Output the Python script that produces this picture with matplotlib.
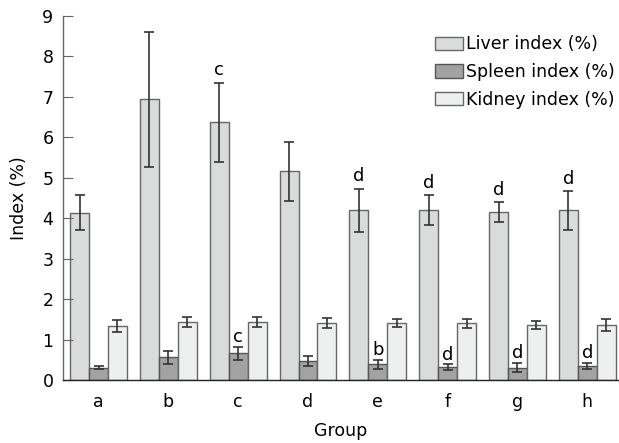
import numpy as np
import matplotlib
matplotlib.use('Agg')
import matplotlib.pyplot as plt

groups = ['a', 'b', 'c', 'd', 'e', 'f', 'g', 'h']

liver = [4.14, 6.94, 6.37, 5.16, 4.20, 4.20, 4.15, 4.20]
liver_err = [0.43, 1.67, 0.98, 0.73, 0.53, 0.37, 0.24, 0.48]
spleen = [0.31, 0.56, 0.66, 0.47, 0.39, 0.32, 0.31, 0.35]
spleen_err = [0.04, 0.15, 0.16, 0.13, 0.11, 0.07, 0.12, 0.07]
kidney = [1.34, 1.43, 1.43, 1.41, 1.40, 1.40, 1.37, 1.37]
kidney_err = [0.15, 0.13, 0.12, 0.12, 0.10, 0.12, 0.10, 0.15]

liver_marks = ['', '', 'c', '', 'd', 'd', 'd', 'd']
spleen_marks = ['', '', 'c', '', 'b', 'd', 'd', 'd']

plt.rcParams.update({
    "font.family": "DejaVu Sans",
    "font.size": 12.5,
    "axes.edgecolor": "#666666",
    "axes.linewidth": 1.0,
})

fig = plt.figure(figsize=(6.19, 4.43), dpi=100)
ax = fig.add_axes([0.102, 0.142, 0.896, 0.822])

x = np.arange(len(groups))
w = 0.271
err_kw = dict(ecolor='#333333', elinewidth=1.2, capsize=3.5, capthick=1.2)

ax.bar(x - w, liver, w, yerr=liver_err, color='#dadcdc', edgecolor='#666666',
       linewidth=1.0, error_kw=err_kw, label='Liver index (%)')
ax.bar(x, spleen, w, yerr=spleen_err, color='#a2a2a2', edgecolor='#555555',
       linewidth=1.0, error_kw=err_kw, label='Spleen index (%)')
ax.bar(x + w, kidney, w, yerr=kidney_err, color='#eeefef', edgecolor='#666666',
       linewidth=1.0, error_kw=err_kw, label='Kidney index (%)')

for i in range(len(groups)):
    if liver_marks[i]:
        ax.text(x[i] - w, liver[i] + liver_err[i] + 0.08, liver_marks[i],
                ha='center', va='bottom', fontsize=13)
    if spleen_marks[i]:
        ax.text(x[i], spleen[i] + spleen_err[i] + 0.02, spleen_marks[i],
                ha='center', va='bottom', fontsize=13)

ax.set_xlim(-0.507, 7.436)
ax.set_ylim(0, 9)
ax.set_yticks(range(0, 10))
ax.set_xticks(x)
ax.set_xticklabels(groups)
ax.tick_params(axis='y', direction='in', length=7, color='#666666', pad=7)
ax.tick_params(axis='x', length=0, pad=9)
ax.spines['top'].set_visible(False)
ax.spines['right'].set_visible(False)
ax.spines['bottom'].set_color('#222222')

ax.set_ylabel('Index (%)', labelpad=10)
ax.set_xlabel('Group', labelpad=8)

ax.legend(loc='upper right', bbox_to_anchor=(1.014, 0.975), frameon=False,
          handlelength=1.6, handleheight=0.8, handletextpad=0.2,
          labelspacing=0.55, borderaxespad=0.2, fontsize=12.5)

fig.savefig('out.png', dpi=100)
